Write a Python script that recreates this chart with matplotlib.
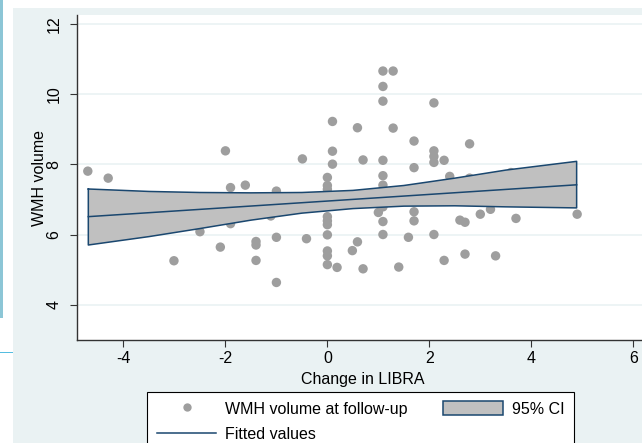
import matplotlib
matplotlib.use('Agg')
import matplotlib.pyplot as plt
from matplotlib.patches import Rectangle, Patch
from matplotlib.lines import Line2D

plt.rcParams['font.family'] = ['Liberation Sans', 'DejaVu Sans']
plt.rcParams['axes.unicode_minus'] = False

# change in LIBRA score vs WMH volume at follow-up
libra_change = [-4.70, -4.30, -2.00, -1.90, -1.61, -1.00, -1.11, -2.50, -1.90, -2.10,
                -3.01, -1.40, -1.40, -1.40, -1.00, -1.00, -0.41, -0.49, 0.00, 0.00,
                0.00, 0.00, 0.00, 0.00, 0.00, 0.00, 0.00, 0.00, 0.10, 0.10,
                0.10, 0.19, 0.49, 0.59, 0.59, 0.70, 0.70, 1.00, 1.09, 1.09,
                1.09, 1.09, 1.09, 1.09, 1.09, 1.09, 1.09, 1.29, 1.29, 1.40,
                1.59, 1.70, 1.70, 1.70, 1.70, 2.09, 2.09, 2.09, 2.09, 2.09,
                2.29, 2.29, 2.40, 2.60, 2.70, 2.70, 2.79, 2.79, 3.00, 3.20,
                3.30, 3.60, 3.70, 4.90]
wmh_volume = [7.81, 7.61, 8.39, 7.34, 7.41, 7.24, 6.53, 6.08, 6.31, 5.64,
              5.25, 5.80, 5.70, 5.26, 5.92, 4.63, 5.88, 8.16, 7.63, 7.40,
              7.29, 6.51, 6.39, 6.28, 5.99, 5.53, 5.39, 5.14, 9.23, 8.38,
              8.01, 5.06, 5.54, 9.05, 5.79, 8.13, 5.02, 6.63, 10.67, 10.23,
              9.81, 8.12, 7.68, 7.41, 6.79, 6.37, 6.00, 10.67, 9.04, 5.07,
              5.92, 8.67, 7.91, 6.65, 6.39, 9.76, 8.39, 8.23, 8.06, 6.00,
              8.12, 5.26, 7.66, 6.41, 6.35, 5.44, 8.59, 7.61, 6.58, 6.72,
              5.39, 7.77, 6.46, 6.58]

# fitted values and 95% confidence band
fit_x = [-4.69, 4.89]
fit_y = [6.51, 7.42]
ci_x = [-4.69, -3.5, -2.5, -1.5, -0.5, 0.5, 1.5, 2.5, 3.5, 4.89]
ci_upper = [7.30, 7.23, 7.20, 7.19, 7.20, 7.26, 7.40, 7.61, 7.84, 8.09]
ci_lower = [5.70, 5.94, 6.17, 6.41, 6.61, 6.74, 6.81, 6.82, 6.79, 6.76]

xticks = [-4, -2, 0, 2, 4, 6]
yticks = [4, 6, 8, 10, 12]

navy = '#1a476f'
dot_gray = '#9e9e9e'
band_gray = '#c0c0c0'
region_bg = '#eaf2f3'

W, H = 642, 443
fig = plt.figure(figsize=(W / 100, H / 100), dpi=100)
fig.patch.set_facecolor('white')

# page pieces around the graph
fig.add_artist(Rectangle((13 / W, 0), (W - 13) / W, (H - 8) / H,
                         transform=fig.transFigure, facecolor=region_bg,
                         edgecolor='none', zorder=-10))
fig.add_artist(Rectangle((0, (H - 318) / H), 3 / W, 318 / H,
                         transform=fig.transFigure, facecolor='#8cc6d6',
                         edgecolor='none', zorder=-10))
fig.add_artist(Rectangle((0, (H - 353) / H), 13 / W, 1.5 / H,
                         transform=fig.transFigure, facecolor='#55bde0',
                         edgecolor='none', zorder=-10))

ax = fig.add_axes([77 / W, (H - 340) / H, (648 - 77) / W, (340 - 15) / H])
ax.set_facecolor('white')

ax.scatter(libra_change, wmh_volume, s=46, color=dot_gray, edgecolors='none',
           zorder=2)
ax.fill_between(ci_x, ci_lower, ci_upper, facecolor=band_gray, edgecolor='none',
                zorder=3)
ax.plot(ci_x + ci_x[::-1] + [ci_x[0]], ci_upper + ci_lower[::-1] + [ci_upper[0]],
        color=navy, lw=1.1, zorder=4)
ax.plot(fit_x, fit_y, color=navy, lw=1.1, zorder=4)

ax.set_xlim(-4.912, 6.29)
ax.set_ylim(2.986, 12.271)
ax.set_xticks(xticks)
ax.set_yticks(yticks)
ax.set_yticklabels([str(t) for t in yticks], rotation=90, va='center')
ax.tick_params(axis='both', length=5, width=0.8, color='#333333',
               labelsize=11.5, labelcolor='black')
ax.tick_params(axis='y', pad=6)
ax.tick_params(axis='x', pad=3)
ax.grid(axis='y', color=region_bg, lw=1.2, zorder=0)
ax.set_axisbelow(True)
for side in ['top', 'right']:
    ax.spines[side].set_visible(False)
for side in ['left', 'bottom']:
    ax.spines[side].set_color('#333333')
    ax.spines[side].set_linewidth(1.0)

ax.set_xlabel('Change in LIBRA', fontsize=11.5, labelpad=4)
ax.set_ylabel('WMH volume', fontsize=11.5, va='center')
ax.yaxis.set_label_coords(-0.065, 0.5)

handles = [Line2D([], [], ls='none', marker='o', ms=6, color=dot_gray, mec='none'),
           Line2D([], [], color=navy, lw=1.1),
           Patch(facecolor=band_gray, edgecolor=navy, lw=1.1)]
labels = ['WMH volume at follow-up', 'Fitted values', '95% CI']
leg = fig.legend(handles, labels, loc='upper left', ncol=2,
                 bbox_to_anchor=(147 / W, (H - 396) / H, (574 - 147) / W, 0.01),
                 mode='expand', fontsize=11.5, frameon=True, fancybox=False,
                 edgecolor='black', framealpha=1, handlelength=3.75,
                 handleheight=1.0, handletextpad=0.55, labelspacing=0.6,
                 borderpad=0.6, borderaxespad=0, columnspacing=1.6)
leg.get_frame().set_linewidth(0.8)

fig.savefig('out.png', dpi=100)
